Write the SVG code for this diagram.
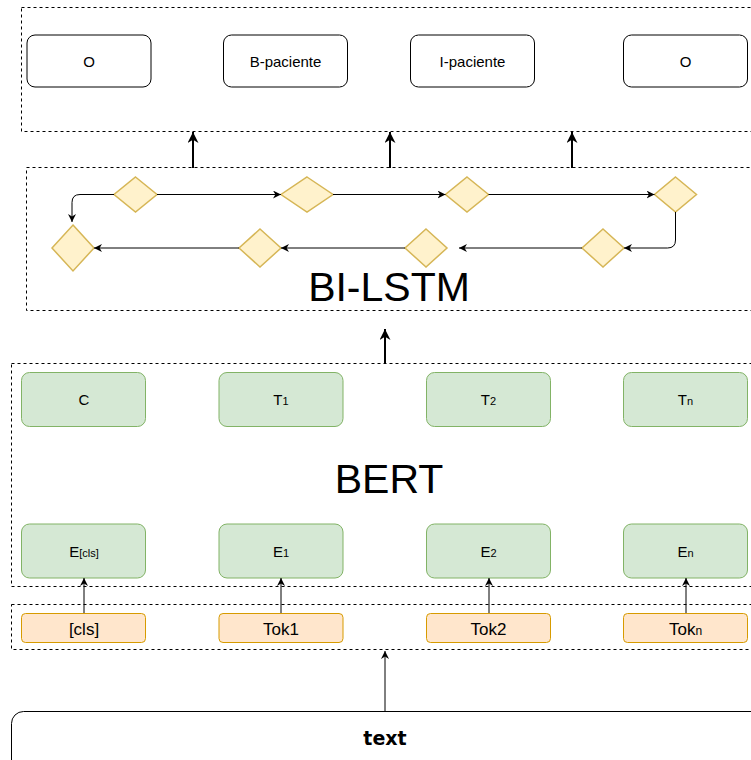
<svg xmlns="http://www.w3.org/2000/svg" width="751" height="760" viewBox="0 0 751 760">
<style>
text{font-family:"Liberation Sans",Arial,sans-serif;fill:#000;text-anchor:middle}
.grp{fill:none;stroke:#000;stroke-width:1;stroke-dasharray:3 3}
.out{fill:#fff;stroke:#000;stroke-width:1}
.grn{fill:#d5e8d4;stroke:#82b366;stroke-width:1}
.org{fill:#ffe6cc;stroke:#d79b00;stroke-width:1}
.dia{fill:#fff2cc;stroke:#d6b656;stroke-width:1.5}
.thin{fill:none;stroke:#000;stroke-width:1;marker-end:url(#a)}
.thick{fill:none;stroke:#000;stroke-width:2;marker-end:url(#b)}
.lbl{font-size:15px}
.g{font-size:15px}
.tok{font-size:17px}
.sub{font-size:11px}
.big{font-size:41px}
.title{font-family:"DejaVu Sans",sans-serif;font-size:19px;font-weight:bold}
</style>
<defs>
<marker id="a" viewBox="0 0 10 10" refX="10" refY="5" markerWidth="8" markerHeight="8" markerUnits="userSpaceOnUse" orient="auto"><path d="M0,0 L10,5 L0,10 L3,5 Z" fill="#000"/></marker>
<marker id="b" viewBox="0 0 10 10" refX="10" refY="5" markerWidth="12" markerHeight="11" markerUnits="userSpaceOnUse" orient="auto"><path d="M0,0 L10,5 L0,10 L3,5 Z" fill="#000"/></marker>
</defs>
<rect width="751" height="760" fill="#fff"/>

<g id="output-layer">
<rect class="grp" x="21.5" y="7.5" width="760" height="124"/>
</g>
<g id="out-o1"><rect class="out" x="27" y="35" width="124" height="52" rx="8"/><text class="lbl" x="89" y="66.5">O</text></g>
<g id="out-bpac"><rect class="out" x="223.5" y="35" width="124" height="52" rx="8"/><text class="lbl" x="285.5" y="66.5">B-paciente</text></g>
<g id="out-ipac"><rect class="out" x="410.5" y="35" width="124" height="52" rx="8"/><text class="lbl" x="472.5" y="66.5">I-paciente</text></g>
<g id="out-o2"><rect class="out" x="623.5" y="35" width="124" height="52" rx="8"/><text class="lbl" x="685.5" y="66.5">O</text></g>

<g id="bilstm">
<rect class="grp" x="26.5" y="167.5" width="760" height="143"/>
<text class="big" x="389" y="301">BI-LSTM</text>
</g>
<g id="d-top1"><polygon class="dia" points="135.5,177 157,194.5 135.5,212 114,194.5"/></g>
<g id="d-top2"><polygon class="dia" points="307,177 333,194.5 307,212 281,194.5"/></g>
<g id="d-top3"><polygon class="dia" points="467,177 488.5,194.5 467,212 445.5,194.5"/></g>
<g id="d-top4"><polygon class="dia" points="675.5,177 696.5,194.5 675.5,212 654.5,194.5"/></g>
<g id="d-bot1"><polygon class="dia" points="73,225 94,248 73,271 52,248"/></g>
<g id="d-bot2"><polygon class="dia" points="260,229 281,248 260,267 239,248"/></g>
<g id="d-bot3"><polygon class="dia" points="426,229 447,248 426,267 405,248"/></g>
<g id="d-bot4"><polygon class="dia" points="603,229 624,248 603,267 582,248"/></g>

<g id="bert">
<rect class="grp" x="11.5" y="363.5" width="760" height="223"/>
<text class="big" x="389" y="493">BERT</text>
</g>
<g id="t-c"><rect class="grn" x="21.5" y="372.5" width="124" height="54" rx="8"/><text class="g" x="84" y="405">C</text></g>
<g id="t-1"><rect class="grn" x="219" y="372.5" width="124" height="54" rx="8"/><text class="g" x="281" y="405">T<tspan class="sub">1</tspan></text></g>
<g id="t-2"><rect class="grn" x="426.5" y="372.5" width="124" height="54" rx="8"/><text class="g" x="488.5" y="405">T<tspan class="sub">2</tspan></text></g>
<g id="t-n"><rect class="grn" x="623.5" y="372.5" width="124" height="54" rx="8"/><text class="g" x="685.5" y="405">T<tspan class="sub">n</tspan></text></g>
<g id="e-cls"><rect class="grn" x="21.5" y="524" width="124" height="54" rx="8"/><text class="g" x="84" y="557">E<tspan class="sub">[cls]</tspan></text></g>
<g id="e-1"><rect class="grn" x="219" y="524" width="124" height="54" rx="8"/><text class="g" x="281" y="557">E<tspan class="sub">1</tspan></text></g>
<g id="e-2"><rect class="grn" x="426.5" y="524" width="124" height="54" rx="8"/><text class="g" x="488.5" y="557">E<tspan class="sub">2</tspan></text></g>
<g id="e-n"><rect class="grn" x="623.5" y="524" width="124" height="54" rx="8"/><text class="g" x="685.5" y="557">E<tspan class="sub">n</tspan></text></g>

<g id="tokens">
<rect class="grp" x="11.5" y="604.5" width="760" height="45"/>
</g>
<g id="tok-cls"><rect class="org" x="21.5" y="613.5" width="124" height="29" rx="4"/><text class="tok" x="84" y="634.5">[cls]</text></g>
<g id="tok-1"><rect class="org" x="219" y="613.5" width="124" height="29" rx="4"/><text class="tok" x="281" y="634.5">Tok1</text></g>
<g id="tok-2"><rect class="org" x="426.5" y="613.5" width="124" height="29" rx="4"/><text class="tok" x="488.5" y="634.5">Tok2</text></g>
<g id="tok-n"><rect class="org" x="623.5" y="613.5" width="124" height="29" rx="4"/><text class="tok" x="685.5" y="634.5">Tok<tspan font-size="12px">n</tspan></text></g>

<g id="text-input"><rect x="11.5" y="711.5" width="760" height="70" rx="12" fill="#fff" stroke="#000" stroke-width="1"/><text class="title" x="385" y="745">text</text></g>

<g id="connectors">
<path class="thick" d="M193,168 L193,132"/>
<path class="thick" d="M390,168 L390,132"/>
<path class="thick" d="M572,168 L572,132"/>
<path class="thick" d="M385,363 L385,329"/>
<path class="thin" d="M114,194.5 L80,194.5 Q72,194.5 72,202.5 L72,222"/>
<path class="thin" d="M157,194.5 L281,194.5"/>
<path class="thin" d="M333,194.5 L445.5,194.5"/>
<path class="thin" d="M488.5,194.5 L654.5,194.5"/>
<path class="thin" d="M675.5,212 L675.5,240 Q675.5,248 667.5,248 L624,248"/>
<path class="thin" d="M582,248 L459,248"/>
<path class="thin" d="M405,248 L281,248"/>
<path class="thin" d="M239,248 L94,248"/>
<path class="thin" d="M84,613 L84,578"/>
<path class="thin" d="M281,613 L281,578"/>
<path class="thin" d="M489,613 L489,578"/>
<path class="thin" d="M686,613 L686,578"/>
<path class="thin" d="M385,711 L385,651"/>
</g>
</svg>
